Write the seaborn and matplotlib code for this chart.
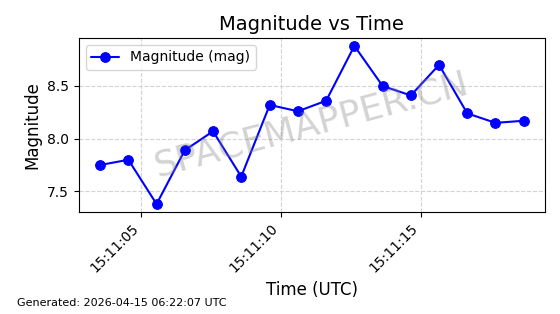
import matplotlib
matplotlib.use("Agg")
import matplotlib.pyplot as plt
import matplotlib.dates as mdates
import seaborn as sns
import pandas as pd

times = ["2026-04-15 15:11:03.53", "2026-04-15 15:11:04.54", "2026-04-15 15:11:05.55",
         "2026-04-15 15:11:06.56", "2026-04-15 15:11:07.57", "2026-04-15 15:11:08.58",
         "2026-04-15 15:11:09.60", "2026-04-15 15:11:10.61", "2026-04-15 15:11:11.62",
         "2026-04-15 15:11:12.63", "2026-04-15 15:11:13.64", "2026-04-15 15:11:14.65",
         "2026-04-15 15:11:15.66", "2026-04-15 15:11:16.67", "2026-04-15 15:11:17.68",
         "2026-04-15 15:11:18.69"]
magnitudes = [7.75, 7.80, 7.38, 7.89, 8.07, 7.64, 8.32, 8.26, 8.36, 8.88,
              8.50, 8.41, 8.70, 8.24, 8.15, 8.17]

df = pd.DataFrame({"time": pd.to_datetime(times), "mag": magnitudes})

sns.set_style("ticks")
plt.rcParams['font.family'] = ['DejaVu Sans']
plt.rcParams.update({"text.color": "black", "axes.labelcolor": "black",
                     "xtick.color": "black", "ytick.color": "black",
                     "axes.edgecolor": "black"})

fig = plt.figure(figsize=(5.6, 3.14), dpi=100)
ax = fig.add_axes([0.141, 0.325, 0.832, 0.554])
sns.lineplot(data=df, x="time", y="mag", ax=ax, color="blue", marker="o",
             markersize=7, markeredgecolor="blue", linewidth=1.5,
             label="Magnitude (mag)")
ax.grid(True, linestyle="--", color="lightgray", linewidth=0.8)
ax.set_title("Magnitude vs Time", fontsize=14)
ax.set_xlabel("Time (UTC)", fontsize=12)
ax.set_ylabel("Magnitude", fontsize=12)
ax.xaxis.set_major_locator(mdates.SecondLocator(bysecond=range(0, 60, 5)))
ax.xaxis.set_major_formatter(mdates.DateFormatter("%H:%M:%S"))
ax.set_yticks([7.5, 8.0, 8.5])
plt.setp(ax.get_xticklabels(), rotation=45, ha="right")
ax.tick_params(labelsize=10, colors="black")
for s in ax.spines.values():
    s.set_visible(True)
    s.set_color("black")
leg = ax.legend(loc="upper left", fontsize=10)
for t in leg.get_texts():
    t.set_color("black")
ax.text(0.5, 0.5, "SPACEMAPPER.CN", transform=ax.transAxes, fontsize=26,
        color="gray", alpha=0.35, rotation=15, ha="center", va="center")
fig.text(0.03, 0.025, "Generated: 2026-04-15 06:22:07 UTC", fontsize=8, color="black")
fig.savefig("out.png", dpi=100)
